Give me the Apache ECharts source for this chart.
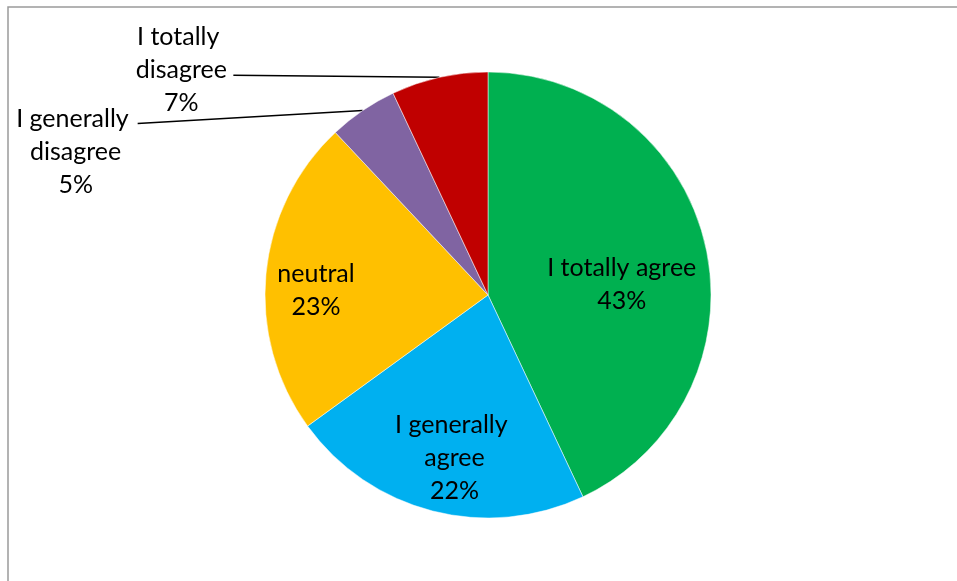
<!DOCTYPE html>
<html>
<head>
<meta charset="utf-8">
<style>
  html, body { margin: 0; padding: 0; background: #fff; }
  #chart { width: 957px; height: 581px; }
</style>
<script src="https://cdn.jsdelivr.net/npm/echarts@6/dist/echarts.min.js"></script>
</head>
<body>
<div id="chart"></div>
<script>
// Survey answers, clockwise from twelve o'clock
const categories = ['I totally agree', 'I generally agree', 'neutral', 'I generally disagree', 'I totally disagree'];
const shares = [43, 22, 23, 5, 7];
const colors = ['#00B050', '#00B0F0', '#FFC000', '#8064A2', '#C00000'];

// Label placement: inside labels get a nudge, outside ones sit left of the pie with a straight leader
const labelPlacement = [
  { inside: true, dx: 22, dy: 14 },
  { inside: true, dx: -5, dy: 52, width: 130 },
  { inside: true, dx: -58, dy: 6 },
  { inside: false, dx: -287, dy: 41, width: 120, lx: 62, ly: -28 },
  { inside: false, dx: -258, dy: -7, width: 120, lx: 52, ly: 5 }
];

const chart = echarts.init(document.getElementById('chart'), null, { renderer: 'canvas' });

const data = categories.map((name, i) => {
  const p = labelPlacement[i];
  const item = {
    name: name,
    value: shares[i],
    itemStyle: { color: colors[i] },
    label: { position: p.inside ? 'inside' : 'outside' },
    labelLine: { show: !p.inside }
  };
  if (p.width) {
    item.label.width = p.width;
    item.label.overflow = 'break';
  }
  return item;
});

chart.setOption({
  animation: false,
  backgroundColor: '#fff',
  graphic: [{
    type: 'rect',
    silent: true,
    shape: { x: 8, y: 7, width: 1200, height: 1200 },
    style: { fill: 'none', stroke: '#9a9a9a', lineWidth: 1.5 }
  }],
  series: [{
    type: 'pie',
    center: [488, 295],
    radius: 223,
    startAngle: 90,
    clockwise: true,
    avoidLabelOverlap: false,
    itemStyle: { borderColor: '#fff', borderWidth: 0.5 },
    label: {
      show: true,
      color: '#000',
      fontFamily: 'Lato',
      fontSize: 25,
      lineHeight: 33,
      align: 'center',
      formatter: (p) => p.name + '\n' + Math.round(p.percent) + '%'
    },
    labelLine: {
      show: true,
      length: 0,
      length2: 0,
      lineStyle: { color: '#000', width: 1.5 }
    },
    labelLayout: function (params) {
      const cfg = labelPlacement[params.dataIndex];
      if (cfg.inside) {
        return { dx: cfg.dx, dy: cfg.dy };
      }
      const edge = params.labelLinePoints[0];
      const x = edge[0] + cfg.dx;
      const y = edge[1] + cfg.dy;
      return {
        x: x,
        y: y,
        align: 'center',
        verticalAlign: 'middle',
        labelLinePoints: [edge, edge, [x + cfg.lx, y + cfg.ly]]
      };
    },
    data: data
  }]
});
</script>
</body>
</html>
